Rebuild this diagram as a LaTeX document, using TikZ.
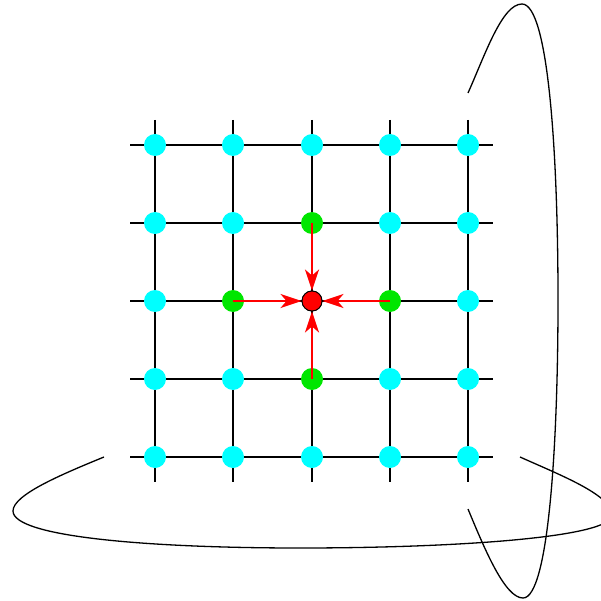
\documentclass[tikz,border=0pt]{standalone}
\usetikzlibrary{arrows.meta}
\definecolor{dcyan}{RGB}{0,255,255}
\definecolor{dgreen}{RGB}{0,230,0}
\definecolor{dred}{RGB}{255,0,0}
\begin{document}
\begin{tikzpicture}[x=1pt,y=-1pt,
  gridline/.style={black,line width=1.1pt},
  loopline/.style={black,line width=1.3pt},
  dot/.style={circle,fill=dcyan,inner sep=0pt,minimum size=22pt},
  gdot/.style={circle,fill=dgreen,inner sep=0pt,minimum size=22pt},
  rdot/.style={circle,fill=dred,draw=black,line width=0.9pt,inner sep=0pt,minimum size=20pt},
  flow/.style={dred,line width=2.6pt,-{Stealth[length=21pt,width=14pt,inset=6pt]}}]
\useasboundingbox (0,0) rectangle (600,601);
% grid lines
\foreach \x in {155,233,312,390,468} \draw[gridline] (\x,120) -- (\x,482);
\foreach \y in {145,223,301,379,457} \draw[gridline] (130,\y) -- (493,\y);
% loops
\draw[loopline] (468,93) .. controls (485,55) and (502,4) .. (522,4)
  .. controls (548,4) and (558,150) .. (558,300)
  .. controls (558,450) and (548,598) .. (523,598)
  .. controls (505,598) and (485,550) .. (468,509);
\draw[loopline] (104,457) .. controls (60,475) and (13,495) .. (13,511)
  .. controls (13,537) and (150,548) .. (300,548)
  .. controls (450,548) and (612,538) .. (612,515)
  .. controls (612,495) and (560,475) .. (520,457);
% dots
\foreach \i/\x in {1/155,2/233,3/312,4/390,5/468}
  \foreach \j/\y in {1/145,2/223,3/301,4/379,5/457}
    {\ifnum\i\j=32 \else\ifnum\i\j=23 \else\ifnum\i\j=43 \else\ifnum\i\j=34 \else\ifnum\i\j=33 \else
      \node[dot] (d\i\j) at (\x,\y) {};\fi\fi\fi\fi\fi}
\node[gdot] (d32) at (312,223) {};
\node[gdot] (d23) at (233,301) {};
\node[gdot] (d43) at (390,301) {};
\node[gdot] (d34) at (312,379) {};
\node[rdot] (d33) at (312,301) {};
\draw[flow] (d32.center) -- (d33);
\draw[flow] (d23.center) -- (d33);
\draw[flow] (d43.center) -- (d33);
\draw[flow] (d34.center) -- (d33);
\node[rdot] at (d33) {};
\end{tikzpicture}
\end{document}
